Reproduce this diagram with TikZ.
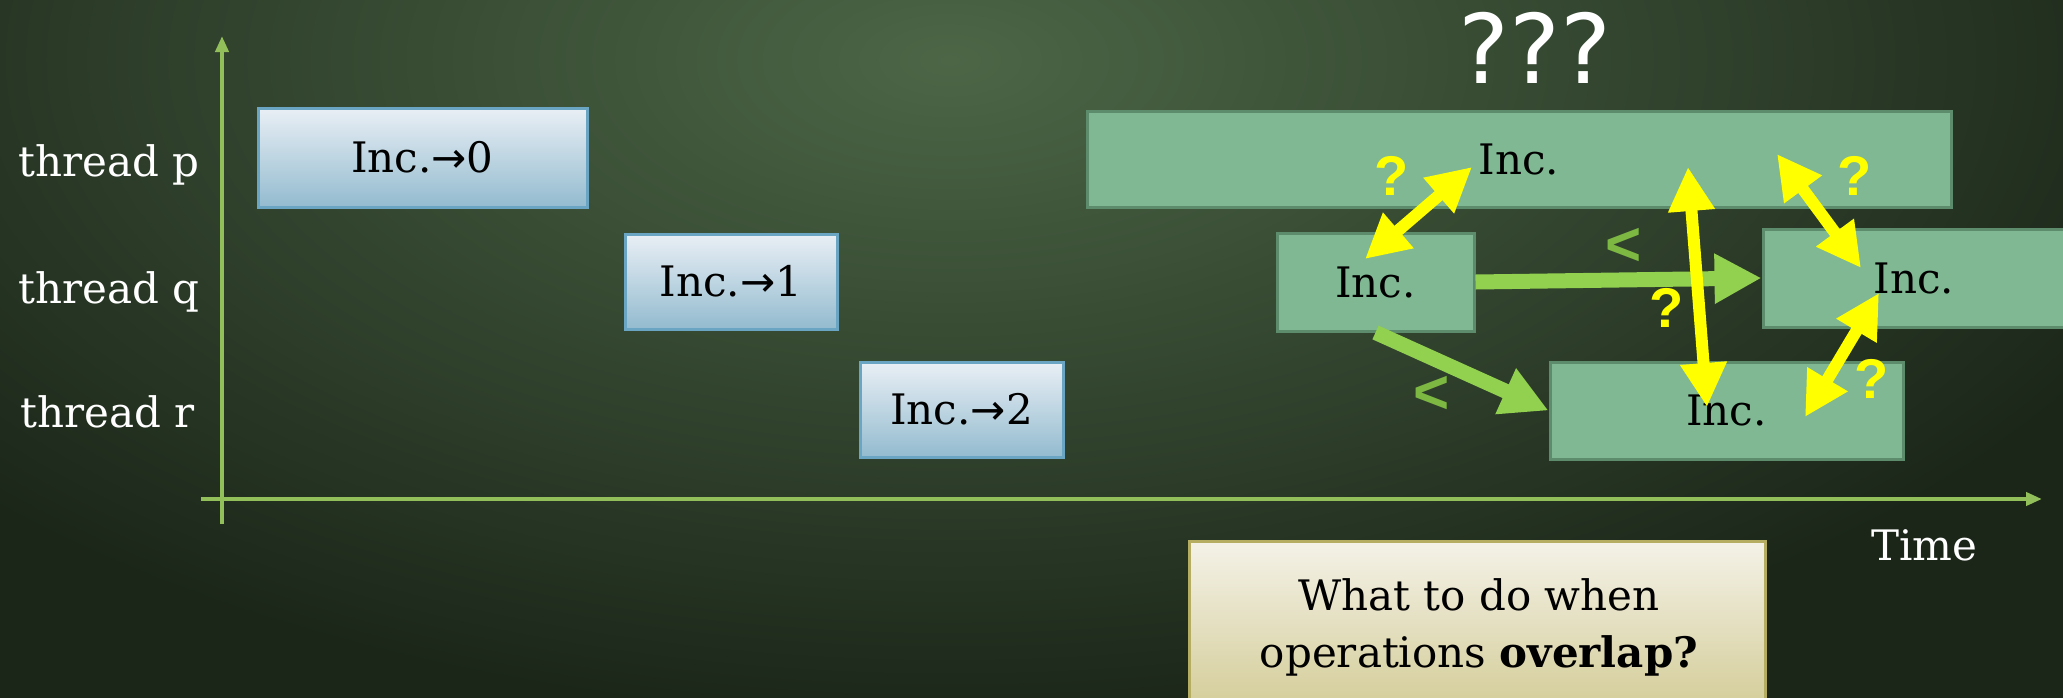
\documentclass[tikz,border=0pt]{standalone}
\usepackage{fontspec}
\setmainfont{DejaVu Serif}
\newfontfamily\symfont{DejaVu Sans}
\newfontfamily\lsans{Liberation Sans}
\usetikzlibrary{arrows.meta}
\definecolor{bgdark}{HTML}{1B2619}
\definecolor{bglight}{HTML}{4C6646}
\definecolor{axisgreen}{HTML}{92BF5A}
\definecolor{bluetop}{HTML}{E9EFF5}
\definecolor{bluebot}{HTML}{93BBCF}
\definecolor{blueborder}{HTML}{6AA6C4}
\definecolor{gfill}{HTML}{7FB893}
\definecolor{gborder}{HTML}{5C8C6C}
\definecolor{creamtop}{HTML}{F4F2E8}
\definecolor{creambot}{HTML}{D2CA93}
\definecolor{creamborder}{HTML}{B5AE62}
\definecolor{fatgreen}{HTML}{92D050}
\definecolor{ltgreen}{HTML}{7DB843}
\definecolor{qyellow}{HTML}{FFFF00}
\newcommand{\mysize}{\fontsize{42}{57}\selectfont}
\begin{document}
\begin{tikzpicture}[x=1pt,y=-1pt,
  bluebox/.style={draw=blueborder, line width=3pt, top color=bluetop, bottom color=bluebot, inner sep=0pt, font=\mysize},
  greenbox/.style={draw=gborder, line width=3pt, fill=gfill, inner sep=0pt, font=\mysize},
  creambox/.style={draw=creamborder, line width=3pt, top color=creamtop, bottom color=creambot, inner sep=0pt},
  threadlbl/.style={text=white, font=\mysize, anchor=base west, inner sep=0pt},
  axisline/.style={draw=axisgreen, line width=4pt, -{Triangle[length=16pt,width=13pt]}},
  fatarrow/.style={draw=fatgreen, line width=15pt, -{Triangle[length=47pt,width=47pt]}},
  ybiarrow/.style={draw=qyellow, line width=12pt, {Triangle[length=44pt,width=44pt]}-{Triangle[length=44pt,width=44pt]}},
  yq/.style={text=qyellow, font=\lsans\bfseries\fontsize{56}{60}\selectfont, inner sep=0pt},
  lt/.style={text=ltgreen, font=\lsans\bfseries\fontsize{62}{66}\selectfont, inner sep=0pt}]
\useasboundingbox (0,0) rectangle (2063,697);
\clip (-6,-6) rectangle (2069,703);
\fill[bgdark] (-6,-6) rectangle (2069,703);
\fill[inner color=bglight, outer color=bgdark] (-350,-600) rectangle (2250,720);

% axes
\coordinate (yaxB) at (222,524);
\coordinate (yaxT) at (222,36);
\coordinate (xaxL) at (201,499);
\coordinate (xaxR) at (2042,499);
\draw[axisline] (yaxB) -- (yaxT);
\draw[axisline] (xaxL) -- (xaxR);

% thread labels
\node[threadlbl] (tp) at (18,176) {thread p};
\node[threadlbl] (tq) at (18,303) {thread q};
\node[threadlbl] (tr) at (20,427) {thread r};

% sequential operations
\node[bluebox, minimum width=329pt, minimum height=99pt] (b0) at (422.5,157.5) {Inc.{\symfont →}0};
\node[bluebox, minimum width=212pt, minimum height=95pt] (b1) at (731,281.5) {Inc.{\symfont →}1};
\node[bluebox, minimum width=203pt, minimum height=95pt] (b2) at (961.5,409.5) {Inc.{\symfont →}2};

% overlapping operations
\node[greenbox, minimum width=864pt, minimum height=96pt] (p) at (1519,159) {Inc.};
\node[greenbox, minimum width=197pt, minimum height=98pt] (q1) at (1375.5,282) {Inc.};
\node[greenbox, minimum width=302pt, minimum height=98pt] (q2) at (1914,278) {Inc.};
\node[greenbox, minimum width=353pt, minimum height=97pt] (r) at (1726.5,410.5) {Inc.};

\node[text=white, font=\symfont\fontsize{96}{100}\selectfont, inner sep=0pt] (qqq) at (1535,48) {???};

% precedence arrows
\draw[fatarrow] (q1.east) -- (q2.west);
\draw[fatarrow] (q1.south) -- (r.west);
\node[lt] (lt1) at (1624,247) {<};
\node[lt] (lt2) at (1432,395) {<};

% uncertain orderings
\coordinate (a1) at (1365,259);
\coordinate (a2) at (1472,167);
\coordinate (v1) at (1688,167);
\coordinate (v2) at (1707,407);
\coordinate (c1) at (1777,154);
\coordinate (c2) at (1861,268);
\coordinate (d1) at (1879,293);
\coordinate (d2) at (1805,417);
\draw[ybiarrow] (a1) -- (a2);
\draw[ybiarrow] (v1) -- (v2);
\draw[ybiarrow] (c1) -- (c2);
\draw[ybiarrow] (d1) -- (d2);
\node[yq] (qa) at (1392,176) {?};
\node[yq] (qv) at (1667,308) {?};
\node[yq] (qc) at (1855,176) {?};
\node[yq] (qd) at (1872,379) {?};

% time label
\node[text=white, font=\mysize, anchor=base west, inner sep=0pt] (time) at (1871,560) {Time};

% question box
\node[creambox, minimum width=576pt, minimum height=178pt] (qbox) at (1477,630) {};
\node[font=\mysize, align=center, anchor=north, inner sep=0pt] (qtext) at (1479,578) {What to do when\\operations \textbf{overlap?}};
\end{tikzpicture}
\end{document}
